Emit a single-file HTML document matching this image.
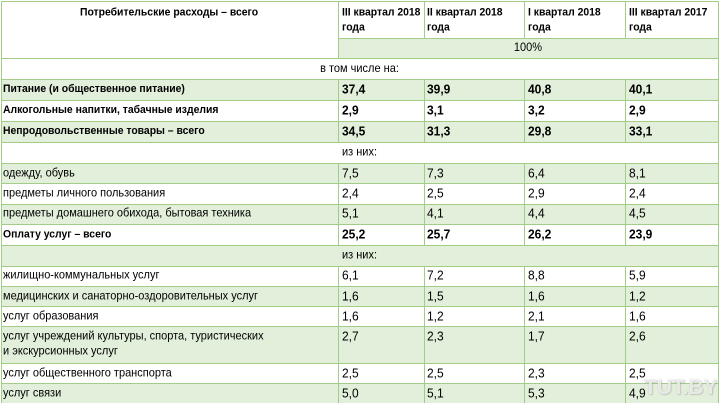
<!DOCTYPE html>
<html><head><meta charset="utf-8"><style>
html,body{margin:0;padding:0;background:#fff;}
#w{position:relative;width:720px;height:403px;overflow:hidden;background:#fff;font-family:"Liberation Sans","Noto Sans CJK SC",sans-serif;color:#000;}
.f{position:absolute;background:#e2efda;}
.h{position:absolute;height:1px;background:#a3cc88;}
.v{position:absolute;width:1px;background:#a3cc88;}
.t{position:absolute;white-space:nowrap;font-size:11px;line-height:13px;transform:scaleY(1.1);transform-origin:50% 50%;}
.b{font-weight:bold;font-size:10.4px;}
.n{font-size:12px;}
.nb{font-size:12px;font-weight:bold;}
.wm{position:absolute;left:644px;top:376px;font-size:21px;font-weight:bold;color:rgba(255,255,255,0.75);text-shadow:0 0 1px rgba(120,120,120,0.5),1px 1px 1px rgba(150,150,150,0.35);letter-spacing:0px;}
</style></head><body><div id="w">
<!-- fills -->
<div class="f" style="left:338px;top:38px;width:380px;height:20px"></div>
<div class="f" style="left:1px;top:79px;width:717px;height:21px"></div>
<div class="f" style="left:1px;top:121px;width:717px;height:21px"></div>
<div class="f" style="left:1px;top:163px;width:717px;height:20px"></div>
<div class="f" style="left:1px;top:204px;width:717px;height:20px"></div>
<div class="f" style="left:1px;top:245px;width:717px;height:21px"></div>
<div class="f" style="left:1px;top:286px;width:717px;height:20px"></div>
<div class="f" style="left:1px;top:326px;width:717px;height:37px"></div>
<div class="f" style="left:1px;top:383px;width:717px;height:20px"></div>

<!-- horizontal lines -->
<div class="h" style="left:1px;top:1px;width:718px"></div>
<div class="h" style="left:338px;top:38px;width:381px"></div>
<div class="h" style="left:1px;top:58px;width:718px"></div>
<div class="h" style="left:1px;top:79px;width:718px"></div>
<div class="h" style="left:1px;top:100px;width:718px"></div>
<div class="h" style="left:1px;top:121px;width:718px"></div>
<div class="h" style="left:1px;top:142px;width:718px"></div>
<div class="h" style="left:1px;top:163px;width:718px"></div>
<div class="h" style="left:1px;top:183px;width:718px"></div>
<div class="h" style="left:1px;top:204px;width:718px"></div>
<div class="h" style="left:1px;top:224px;width:718px"></div>
<div class="h" style="left:1px;top:245px;width:718px"></div>
<div class="h" style="left:1px;top:266px;width:718px"></div>
<div class="h" style="left:1px;top:286px;width:718px"></div>
<div class="h" style="left:1px;top:306px;width:718px"></div>
<div class="h" style="left:1px;top:326px;width:718px"></div>
<div class="h" style="left:1px;top:363px;width:718px"></div>
<div class="h" style="left:1px;top:383px;width:718px"></div>

<!-- vertical lines: outer -->
<div class="v" style="left:1px;top:1px;height:402px"></div>
<div class="v" style="left:718px;top:1px;height:402px"></div>
<!-- col 338 -->
<div class="v" style="left:338px;top:1px;height:57px"></div>
<div class="v" style="left:338px;top:79px;height:63px"></div>
<div class="v" style="left:338px;top:163px;height:82px"></div>
<div class="v" style="left:338px;top:266px;height:137px"></div>
<!-- col 424 -->
<div class="v" style="left:424px;top:1px;height:37px"></div>
<div class="v" style="left:424px;top:79px;height:63px"></div>
<div class="v" style="left:424px;top:163px;height:82px"></div>
<div class="v" style="left:424px;top:266px;height:137px"></div>
<!-- col 524 -->
<div class="v" style="left:524px;top:1px;height:37px"></div>
<div class="v" style="left:524px;top:79px;height:63px"></div>
<div class="v" style="left:524px;top:163px;height:82px"></div>
<div class="v" style="left:524px;top:266px;height:137px"></div>
<!-- col 625 -->
<div class="v" style="left:625px;top:1px;height:37px"></div>
<div class="v" style="left:625px;top:79px;height:63px"></div>
<div class="v" style="left:625px;top:163px;height:82px"></div>
<div class="v" style="left:625px;top:266px;height:137px"></div>

<!-- header -->
<div class="t b" style="left:80px;top:6px;width:178px;text-align:center;">Потребительские расходы – всего</div>
<div class="t b" style="left:342px;top:6px;">III квартал 2018</div>
<div class="t b" style="left:342px;top:21px;">года</div>
<div class="t b" style="left:427px;top:6px;">II квартал 2018</div>
<div class="t b" style="left:427px;top:21px;">года</div>
<div class="t b" style="left:528px;top:6px;">I квартал 2018</div>
<div class="t b" style="left:528px;top:21px;">года</div>
<div class="t b" style="left:629px;top:6px;">III квартал 2017</div>
<div class="t b" style="left:629px;top:21px;">года</div>
<div class="t" style="left:338px;top:42px;width:380px;text-align:center;">100%</div>
<div class="t" style="left:1px;top:63px;width:717px;text-align:center;">в том числе на:</div>

<!-- rows -->
<div class="t b" style="left:3px;top:83px;">Питание (и общественное питание)</div>
<div class="t nb" style="left:342px;top:83px;">37,4</div>
<div class="t nb" style="left:427px;top:83px;">39,9</div>
<div class="t nb" style="left:528px;top:83px;">40,8</div>
<div class="t nb" style="left:629px;top:83px;">40,1</div>

<div class="t b" style="left:3px;top:104px;">Алкогольные напитки, табачные изделия</div>
<div class="t nb" style="left:342px;top:104px;">2,9</div>
<div class="t nb" style="left:427px;top:104px;">3,1</div>
<div class="t nb" style="left:528px;top:104px;">3,2</div>
<div class="t nb" style="left:629px;top:104px;">2,9</div>

<div class="t b" style="left:3px;top:125px;">Непродовольственные товары – всего</div>
<div class="t nb" style="left:342px;top:125px;">34,5</div>
<div class="t nb" style="left:427px;top:125px;">31,3</div>
<div class="t nb" style="left:528px;top:125px;">29,8</div>
<div class="t nb" style="left:629px;top:125px;">33,1</div>

<div class="t" style="left:1px;top:146px;width:717px;text-align:center;">из них:</div>

<div class="t" style="left:3px;top:167px;">одежду, обувь</div>
<div class="t n" style="left:342px;top:167px;">7,5</div>
<div class="t n" style="left:427px;top:167px;">7,3</div>
<div class="t n" style="left:528px;top:167px;">6,4</div>
<div class="t n" style="left:629px;top:167px;">8,1</div>

<div class="t" style="left:3px;top:187px;">предметы личного пользования</div>
<div class="t n" style="left:342px;top:187px;">2,4</div>
<div class="t n" style="left:427px;top:187px;">2,5</div>
<div class="t n" style="left:528px;top:187px;">2,9</div>
<div class="t n" style="left:629px;top:187px;">2,4</div>

<div class="t" style="left:3px;top:207px;">предметы домашнего обихода, бытовая техника</div>
<div class="t n" style="left:342px;top:207px;">5,1</div>
<div class="t n" style="left:427px;top:207px;">4,1</div>
<div class="t n" style="left:528px;top:207px;">4,4</div>
<div class="t n" style="left:629px;top:207px;">4,5</div>

<div class="t b" style="left:3px;top:228px;">Оплату услуг – всего</div>
<div class="t nb" style="left:342px;top:228px;">25,2</div>
<div class="t nb" style="left:427px;top:228px;">25,7</div>
<div class="t nb" style="left:528px;top:228px;">26,2</div>
<div class="t nb" style="left:629px;top:228px;">23,9</div>

<div class="t" style="left:1px;top:249px;width:717px;text-align:center;">из них:</div>

<div class="t" style="left:3px;top:269px;">жилищно-коммунальных услуг</div>
<div class="t n" style="left:342px;top:269px;">6,1</div>
<div class="t n" style="left:427px;top:269px;">7,2</div>
<div class="t n" style="left:528px;top:269px;">8,8</div>
<div class="t n" style="left:629px;top:269px;">5,9</div>

<div class="t" style="left:3px;top:290px;">медицинских и санаторно-оздоровительных услуг</div>
<div class="t n" style="left:342px;top:290px;">1,6</div>
<div class="t n" style="left:427px;top:290px;">1,5</div>
<div class="t n" style="left:528px;top:290px;">1,6</div>
<div class="t n" style="left:629px;top:290px;">1,2</div>

<div class="t" style="left:3px;top:310px;">услуг образования</div>
<div class="t n" style="left:342px;top:310px;">1,6</div>
<div class="t n" style="left:427px;top:310px;">1,2</div>
<div class="t n" style="left:528px;top:310px;">2,1</div>
<div class="t n" style="left:629px;top:310px;">1,6</div>

<div class="t" style="left:3px;top:330px;">услуг учреждений культуры, спорта, туристических</div>
<div class="t" style="left:3px;top:345px;">и экскурсионных услуг</div>
<div class="t n" style="left:342px;top:330px;">2,7</div>
<div class="t n" style="left:427px;top:330px;">2,3</div>
<div class="t n" style="left:528px;top:330px;">1,7</div>
<div class="t n" style="left:629px;top:330px;">2,6</div>

<div class="t" style="left:3px;top:367px;">услуг общественного транспорта</div>
<div class="t n" style="left:342px;top:367px;">2,5</div>
<div class="t n" style="left:427px;top:367px;">2,5</div>
<div class="t n" style="left:528px;top:367px;">2,3</div>
<div class="t n" style="left:629px;top:367px;">2,5</div>

<div class="t" style="left:3px;top:387px;">услуг связи</div>
<div class="t n" style="left:342px;top:387px;">5,0</div>
<div class="t n" style="left:427px;top:387px;">5,1</div>
<div class="t n" style="left:528px;top:387px;">5,3</div>
<div class="t n" style="left:629px;top:387px;">4,9</div>

<div class="wm">TUT.BY</div>
</div></body></html>
